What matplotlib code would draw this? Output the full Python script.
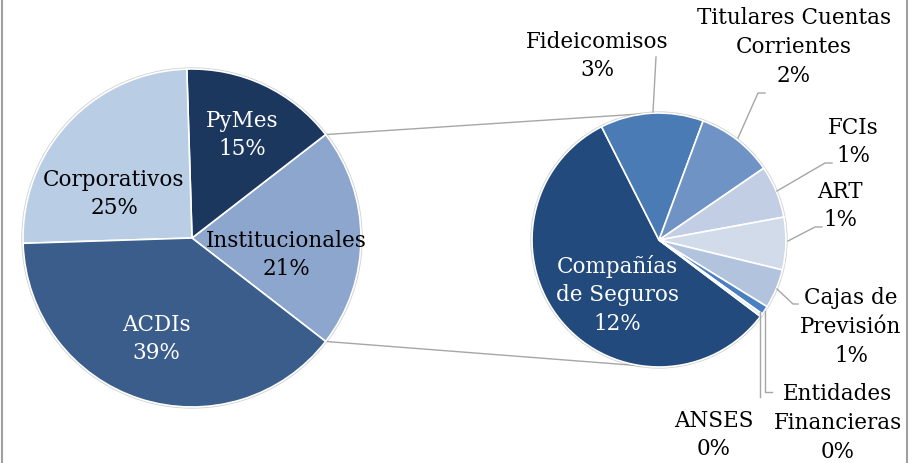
import matplotlib
matplotlib.use('Agg')
import matplotlib.pyplot as plt
import numpy as np

plt.rcParams['font.family'] = ['DejaVu Serif']

# 主圓餅：各類投資人（佔總額 %）
main_labels = ['Institucionales', 'PyMes', 'Corporativos', 'ACDIs']
main_colors = ['#8ca6cd', '#1c375e', '#b9cde5', '#3a5d8b']

# 次圓餅：Institucionales 的拆解（佔總額 %）
sub_labels = ['Compañías\nde Seguros', 'Fideicomisos', 'Titulares Cuentas\nCorrientes',
              'FCIs', 'ART', 'Cajas de\nPrevisión', 'Entidades\nFinancieras', 'ANSES']
sub_values = [12.0, 2.75, 2.05, 1.4, 1.4, 1.05, 0.23, 0.08]
sub_colors = ['#224a7c', '#4a7bb5', '#7093c6', '#c2cee3', '#d2dbea', '#b2c3de',
              '#4a80c2', '#dde6f2']

main_values = [sum(sub_values), 15, 25, 39]

W, H = 916, 464
fig = plt.figure(figsize=(W / 100, H / 100), dpi=100, facecolor='white')
ax = fig.add_axes([0, 0, 1, 1])

c1, r1 = (192, 239), 169
c2, r2 = (659, 241), 127

# y 軸反向，所以角度方向也反過來
main_start = 360 * main_values[0] / sum(main_values) / 2
ax.pie(main_values, colors=main_colors, center=c1, radius=r1,
       startangle=main_start, counterclock=False,
       wedgeprops=dict(edgecolor='white', linewidth=1.2))
sub_start = 37.0
ax.pie(sub_values, colors=sub_colors, center=c2, radius=r2,
       startangle=sub_start, counterclock=True,
       wedgeprops=dict(edgecolor='white', linewidth=1.2))

ax.set_xlim(0, W)
ax.set_ylim(H, 0)
ax.set_aspect('equal')
ax.axis('off')

# 外框（只看得到左右兩條線）
ax.axvline(1.5, color='#a0a0a0', lw=1.5)
ax.axvline(906.5, color='#a0a0a0', lw=1.5)

for cx, r in ((c1, r1), (c2, r2)):
    ax.add_patch(plt.Circle(cx, r + 0.8, fill=False, edgecolor='#d0d0d0', lw=1.2, zorder=0))

# 連接線：主圓餅拆分扇形兩端 -> 次圓餅頂部與底部
a = np.deg2rad(main_start)
for sgn in (1, -1):
    p0 = (c1[0] + r1 * np.cos(a), c1[1] - sgn * r1 * np.sin(a))
    ang = np.deg2rad(93 if sgn > 0 else 263)
    p1 = (c2[0] + r2 * np.cos(ang), c2[1] - r2 * np.sin(ang))
    ax.plot([p0[0], p1[0]], [p0[1], p1[1]], color='#a6a6a6', lw=1, zorder=0)

fs = 15.5
ls = 1.4

# 主圓餅標籤
main_pos = [(286, 255), (242, 135), (114, 194), (156, 339)]
main_txt_color = ['black', 'white', 'black', 'white']
for lab, v, pos, tc in zip(main_labels, main_values, main_pos, main_txt_color):
    ax.text(pos[0], pos[1], f'{lab}\n{v:.0f}%', ha='center', va='center',
            fontsize=fs, color=tc, linespacing=ls)

# 次圓餅標籤與引線
sub_pos = [(617, 295), (597, 56), (794, 47), (853, 142), (840, 206), (851, 327),
           (838, 423), (714, 435)]
leaders = [
    None,
    [(653, 113), (656, 58)],
    [(738, 139), (758, 94), (765, 94)],
    [(777, 192), (825, 164), (832, 164)],
    [(788, 242), (815, 228), (822, 228)],
    [(777, 290), (793, 305), (798, 305)],
    [(765, 312), (765, 393), (772, 393)],
    [(760, 313), (760, 398)],
]
for i, (lab, v, pos) in enumerate(zip(sub_labels, sub_values, sub_pos)):
    tc = 'white' if i == 0 else 'black'
    ax.text(pos[0], pos[1], f'{lab}\n{v:.0f}%', ha='center', va='center',
            fontsize=fs, color=tc, linespacing=ls)
    if leaders[i]:
        xs, ys = zip(*leaders[i])
        ax.plot(xs, ys, color='#a6a6a6', lw=1)

fig.savefig('out.png', dpi=100, facecolor='white')
